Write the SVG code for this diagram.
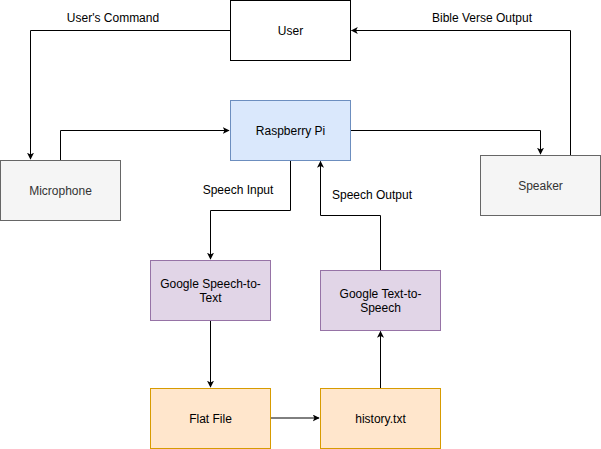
<svg xmlns="http://www.w3.org/2000/svg" width="601" height="449" viewBox="0 0 601 449">
<style>
text{font-family:"Liberation Sans",Arial,sans-serif;font-size:12px;fill:#000;text-anchor:middle}
.grey rect{fill:#f5f5f5;stroke:#666666}
.grey text{fill:#333333}
.blue rect{fill:#dae8fc;stroke:#6c8ebf}
.purple rect{fill:#e1d5e7;stroke:#9673a6}
.orange rect{fill:#ffe6cc;stroke:#d79b00}
.white rect{fill:#ffffff;stroke:#000000}
.edges path{fill:none;stroke:#000;stroke-width:1;marker-end:url(#arr)}
</style>
<defs>
<marker id="arr" viewBox="0 0 10 10" refX="9" refY="5" markerWidth="7" markerHeight="7" markerUnits="userSpaceOnUse" orient="auto">
<path d="M0,0 L10,5 L0,10 L2.5,5 Z" fill="#000"/>
</marker>
</defs>
<rect width="601" height="449" fill="#ffffff"/>
<g class="edges" id="connectors">
<path d="M230.5,30.5 H30.5 V159"/>
<path d="M60.5,160 V130.5 H229"/>
<path d="M350.5,130.5 H540.5 V154"/>
<path d="M570.5,155 V30.5 H351.5"/>
<path d="M290.5,160 V210.5 H210.5 V259"/>
<path d="M380.5,270 V215.5 H320.5 V161.5"/>
<path d="M210.5,320 V387"/>
<path d="M270.5,418 H319"/>
<path d="M380.5,388 V331.5"/>
<text x="113" y="22">User's Command</text>
<text x="482" y="22">Bible Verse Output</text>
<text x="238" y="194">Speech Input</text>
<text x="372" y="199">Speech Output</text>
</g>
<g id="user" class="white"><rect x="230.5" y="0.5" width="120" height="60"/><text x="290.5" y="35">User</text></g>
<g id="raspberry-pi" class="blue"><rect x="230.5" y="100.5" width="120" height="60"/><text x="290.5" y="135">Raspberry Pi</text></g>
<g id="microphone" class="grey"><rect x="0.5" y="160.5" width="120" height="60"/><text x="60.5" y="195">Microphone</text></g>
<g id="speaker" class="grey"><rect x="480.5" y="155.5" width="120" height="60"/><text x="540.5" y="190">Speaker</text></g>
<g id="google-stt" class="purple"><rect x="150.5" y="260.5" width="120" height="60"/><text x="210.5" y="288">Google Speech-to-</text><text x="210.5" y="302">Text</text></g>
<g id="google-tts" class="purple"><rect x="320.5" y="270.5" width="120" height="60"/><text x="380.5" y="298">Google Text-to-</text><text x="380.5" y="312">Speech</text></g>
<g id="flat-file" class="orange"><rect x="150.5" y="388.5" width="120" height="60"/><text x="210.5" y="423">Flat File</text></g>
<g id="history" class="orange"><rect x="320.5" y="388.5" width="120" height="60"/><text x="380.5" y="423">history.txt</text></g>
</svg>
